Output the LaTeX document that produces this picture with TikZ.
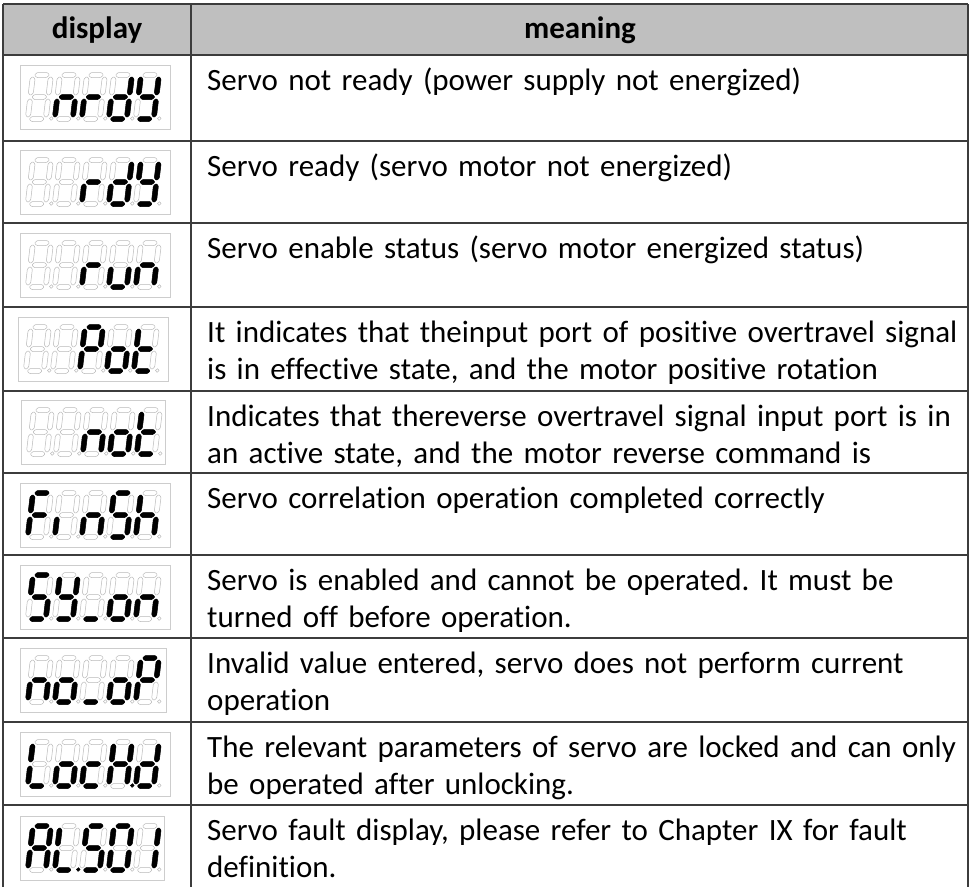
\documentclass[tikz,border=0pt]{standalone}
\usepackage{fontspec}
\setmainfont{Carlito}[Ligatures=NoCommon]
\frenchspacing
\definecolor{headgray}{RGB}{191,191,191}
\definecolor{gridline}{RGB}{60,60,60}
\definecolor{segoff}{RGB}{185,185,185}
\definecolor{framegray}{RGB}{205,205,205}

% seven segment bars, digit is 18 wide and 44 high (y grows downwards)
\tikzset{
  seg a/.style={insert path={(1.5,0) -- ++(2.5,-2.5) -- ++(10,0) -- ++(2.5,2.5) -- ++(-2.5,2.5) -- ++(-10,0) -- cycle}},
  seg g/.style={insert path={(1.5,22) -- ++(2.5,-2.5) -- ++(10,0) -- ++(2.5,2.5) -- ++(-2.5,2.5) -- ++(-10,0) -- cycle}},
  seg d/.style={insert path={(1.5,44) -- ++(2.5,-2.5) -- ++(10,0) -- ++(2.5,2.5) -- ++(-2.5,2.5) -- ++(-10,0) -- cycle}},
  seg f/.style={insert path={(0,1.5) -- ++(2.5,2.5) -- ++(0,14) -- ++(-2.5,2.5) -- ++(-2.5,-2.5) -- ++(0,-14) -- cycle}},
  seg b/.style={insert path={(18,1.5) -- ++(2.5,2.5) -- ++(0,14) -- ++(-2.5,2.5) -- ++(-2.5,-2.5) -- ++(0,-14) -- cycle}},
  seg e/.style={insert path={(0,23.5) -- ++(2.5,2.5) -- ++(0,14) -- ++(-2.5,2.5) -- ++(-2.5,-2.5) -- ++(0,-14) -- cycle}},
  seg c/.style={insert path={(18,23.5) -- ++(2.5,2.5) -- ++(0,14) -- ++(-2.5,2.5) -- ++(-2.5,-2.5) -- ++(0,-14) -- cycle}},
  seg p/.style={insert path={(23.5,43.5) circle (1.8)}},
  seg none/.style={},
  segghost/.style={draw=segoff, line width=0.5pt, fill=white, rounded corners=0.8pt},
  seglit/.style={draw=black, line width=0.5pt, fill=black, rounded corners=0.8pt},
  dispframe/.style={draw=framegray, line width=0.8pt, anchor=north west, inner sep=0pt,
    minimum width=150pt, minimum height=64pt},
  headtext/.style={font=\fontsize{31}{37}\selectfont\bfseries, inner sep=0pt},
  meaningtext/.style={anchor=north west, inner sep=0pt, text width=760pt, align=left,
    font=\fontsize{31}{37}\selectfont, execute at begin node=\strut},
  grid/.style={draw=gridline, line width=1.6pt}
}

\newcommand{\segdigit}[3]{%
  \begin{scope}[shift={(#1,#2)}, xslant=0.12]
    \foreach \s in {a,b,c,d,e,f,g,p} \path[segghost, seg \s];
    \foreach \s in {#3} \path[seglit, seg \s];
  \end{scope}}

% five digits inside a display frame node
\newcommand{\segdisplay}[6]{%
  \begin{scope}[shift={(#1.north west)}]
    \segdigit{13}{10}{#2}
    \segdigit{40}{10}{#3}
    \segdigit{67}{10}{#4}
    \segdigit{94}{10}{#5}
    \segdigit{121}{10}{#6}
  \end{scope}}

\begin{document}
\begin{tikzpicture}[x=1pt, y=-1pt]
  \useasboundingbox (0,0) rectangle (973,886);

  % header
  \fill[headgray] (3,4) rectangle (968,55);
  \node[headtext] (hdisplay) at (97,30) {display};
  \node[headtext] (hmeaning) at (580,30) {meaning};

  % status codes
  \node[dispframe] (d1) at (20,65) {};
  \segdisplay{d1}{none}{c,e,g}{e,g}{b,c,d,e,g}{b,c,d,f,g}
  \node[dispframe] (d2) at (20,150) {};
  \segdisplay{d2}{none}{none}{e,g}{b,c,d,e,g}{b,c,d,f,g}
  \node[dispframe] (d3) at (20,233) {};
  \segdisplay{d3}{none}{none}{e,g}{c,d,e}{c,e,g}
  \node[dispframe] (d4) at (18,317) {};
  \segdisplay{d4}{none}{none}{a,b,e,f,g}{c,d,e,g}{d,e,f,g}
  \node[dispframe, minimum width=144pt] (d5) at (21,400) {};
  \segdisplay{d5}{none}{none}{c,e,g}{c,d,e,g}{d,e,f,g}
  \node[dispframe] (d6) at (20,483) {};
  \segdisplay{d6}{a,e,f,g}{e}{c,e,g}{a,c,d,f,g}{c,e,f,g}
  \node[dispframe] (d7) at (20,565) {};
  \segdisplay{d7}{a,c,d,f,g}{b,c,d,f,g}{d}{c,d,e,g}{c,e,g}
  \node[dispframe, minimum width=146pt] (d8) at (20,648) {};
  \segdisplay{d8}{c,e,g}{c,d,e,g}{d}{c,d,e,g}{a,b,e,f,g}
  \node[dispframe] (d9) at (20,732) {};
  \segdisplay{d9}{d,e,f}{c,d,e,g}{d,e,g}{b,c,e,f,g,p}{b,c,d,e,g}
  \node[dispframe, minimum width=144pt] (d10) at (20,816) {};
  \segdisplay{d10}{a,b,c,e,f,g}{d,e,f,p}{a,c,d,f,g}{a,b,c,d,e,f}{b,c}

  % meanings
  \node[meaningtext] (m1) at (207,64) {Servo not ready (power supply not energized)};
  \node[meaningtext] (m2) at (207,150) {Servo ready (servo motor not energized)};
  \node[meaningtext] (m3) at (207,232) {Servo enable status (servo motor energized status)};
  \node[meaningtext] (m4) at (207,316) {It indicates that theinput port of positive overtravel signal\\is in effective state, and the motor positive rotation};
  \node[meaningtext] (m5) at (207,400) {Indicates that thereverse overtravel signal input port is in\\an active state, and the motor reverse command is};
  \node[meaningtext] (m6) at (207,482) {Servo correlation operation completed correctly};
  \node[meaningtext] (m7) at (207,564) {Servo is enabled and cannot be operated. It must be\\turned off before operation.};
  \node[meaningtext] (m8) at (207,647) {Invalid value entered, servo does not perform current\\operation};
  \node[meaningtext] (m9) at (207,731) {The relevant parameters of servo are locked and can only\\be operated after unlocking.};
  \node[meaningtext] (m10) at (207,814) {Servo fault display, please refer to Chapter IX for fault\\definition.};

  % table rules
  \foreach \y in {4,55,141,223,307,391,473,555,638,722,805,889}
    \draw[grid] (3,\y) -- (968,\y);
  \foreach \x in {3,191,968}
    \draw[grid] (\x,4) -- (\x,889);
\end{tikzpicture}
\end{document}
